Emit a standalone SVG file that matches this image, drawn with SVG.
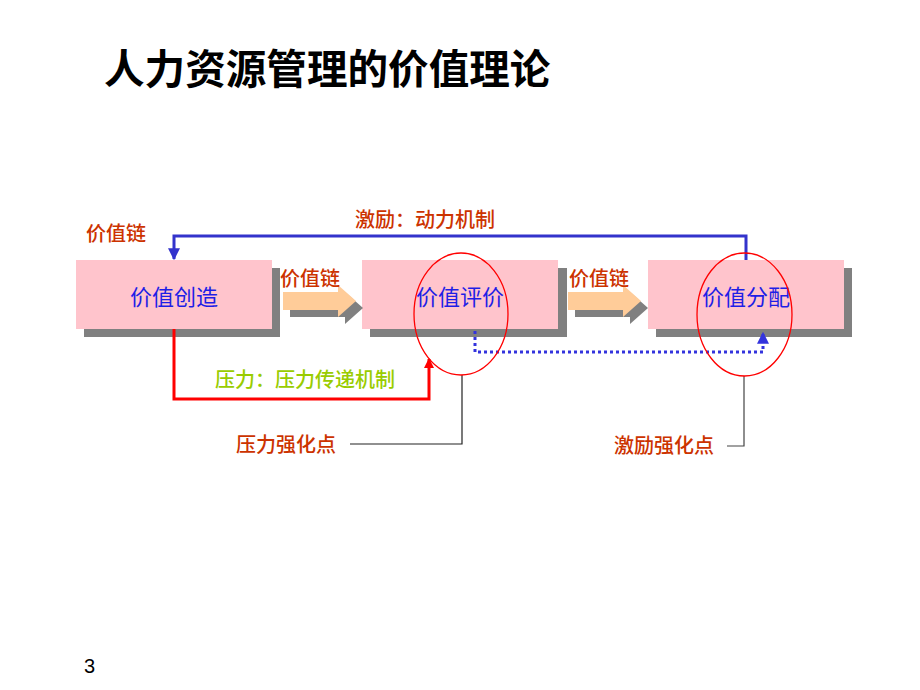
<svg xmlns="http://www.w3.org/2000/svg" width="920" height="690" viewBox="0 0 920 690">
<style>
.cjk{font-family:"Noto Sans CJK SC","Liberation Sans",sans-serif}
.lbl{font-size:20px;fill:#CC3300;font-weight:500}
.box{fill:#FFC4CC}
.shadow{fill:#808080}
.btxt{font-size:22px;fill:#1E1EE6;text-anchor:middle;font-weight:400}
.arr{fill:#FFCC99}
</style>
<defs>
<marker id="mb" viewBox="0 0 10 10" refX="9" refY="5" markerWidth="4" markerHeight="4" orient="auto" markerUnits="strokeWidth">
<path d="M0,0 L10,5 L0,10 Z" fill="#3333CC"/>
</marker>
<marker id="mr" viewBox="0 0 10 10" refX="9" refY="5" markerWidth="3.5" markerHeight="3.5" orient="auto" markerUnits="strokeWidth">
<path d="M0,0 L10,5 L0,10 Z" fill="#FF0000"/>
</marker>
<marker id="md" viewBox="0 0 10 10" refX="9" refY="5" markerWidth="4" markerHeight="4" orient="auto" markerUnits="strokeWidth">
<path d="M0,0 L10,5 L0,10 Z" fill="#3333DD"/>
</marker>
<path id="barrow" d="M0,7 L55,7 L55,0 L73,16 L55,32 L55,25 L0,25 Z"/>
</defs>
<rect width="920" height="690" fill="#FFFFFF"/>
<text class="cjk" x="104" y="84" font-size="40.6" font-weight="600" fill="#000000">人力资源管理的价值理论</text>

<g id="node-create">
<rect class="shadow" x="84" y="268" width="196" height="69"/>
<rect class="box" x="76" y="260" width="196" height="69"/>
<text class="cjk btxt" x="174" y="305">价值创造</text>
</g>
<g id="node-evaluate">
<rect class="shadow" x="370" y="268" width="197" height="69"/>
<rect class="box" x="362" y="260" width="196" height="69"/>
<text class="cjk btxt" x="460" y="305">价值评价</text>
</g>
<g id="node-distribute">
<rect class="shadow" x="656" y="268" width="196" height="69"/>
<rect class="box" x="648" y="260" width="196" height="69"/>
<text class="cjk btxt" x="746" y="305">价值分配</text>
</g>

<g id="chain-arrow-1">
<use href="#barrow" x="290" y="292" class="shadow"/>
<use href="#barrow" x="283" y="285" class="arr"/>
<text class="cjk lbl" x="280" y="286">价值链</text>
</g>
<g id="chain-arrow-2">
<use href="#barrow" x="575" y="292" class="shadow"/>
<use href="#barrow" x="568" y="285" class="arr"/>
<text class="cjk lbl" x="569" y="286">价值链</text>
</g>

<g id="connectors" fill="none">
<path d="M746,260 L746,236 L174,236 L174,259" stroke="#3333CC" stroke-width="3" marker-end="url(#mb)"/>
<path d="M174,329 L174,399 L429,399 L429,359" stroke="#FF0000" stroke-width="3" marker-end="url(#mr)"/>
<path d="M475,331 L475,352 L763,352 L763,333" stroke="#3333DD" stroke-width="3" stroke-dasharray="3,3" marker-end="url(#md)"/>
<path d="M350,444 L462,444 L462,375" stroke="#222222" stroke-width="1.2"/>
<path d="M727,446 L744,446 L744,376" stroke="#444444" stroke-width="1.2"/>
</g>

<g id="highlights" fill="none" stroke="#FF0000" stroke-width="1.3">
<ellipse cx="461" cy="314" rx="47" ry="61"/>
<ellipse cx="744.5" cy="314.5" rx="47.5" ry="61.5"/>
</g>

<text class="cjk lbl" x="86" y="241">价值链</text>
<text class="cjk lbl" x="355" y="227">激励：动力机制</text>
<text class="cjk" x="215" y="387" font-size="20" fill="#99CC00" font-weight="500">压力：压力传递机制</text>
<text class="cjk lbl" x="236" y="452">压力强化点</text>
<text class="cjk lbl" x="614" y="453">激励强化点</text>
<text x="84" y="673" font-family="Liberation Sans, sans-serif" font-size="20" fill="#000000">3</text>
</svg>
